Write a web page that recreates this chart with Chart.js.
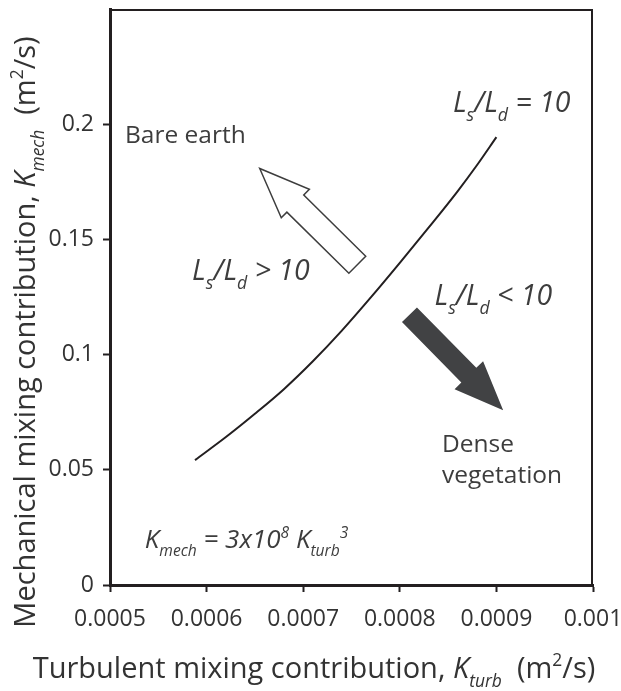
<!DOCTYPE html>
<html>
<head>
<meta charset="utf-8">
<script src="https://cdn.jsdelivr.net/npm/chart.js@4"></script>
<style>
  html, body { margin: 0; padding: 0; background: #fff; }
  #wrap { width: 621px; height: 691px; position: relative; }
</style>
</head>
<body>
<div id="wrap"><canvas id="chart-kmech"></canvas></div>
<script>
// ---------- DATOS
const kTurb = [0.000588, 0.00062, 0.00065, 0.00068, 0.00071, 0.00074, 0.00077, 0.0008, 0.00083, 0.00086, 0.00088, 0.0009];
const kMech = [0.0542, 0.0642, 0.0743, 0.0850, 0.0971, 0.1104, 0.1248, 0.1398, 0.1552, 0.1710, 0.1823, 0.1944];
const xTickValues = [0.0005, 0.0006, 0.0007, 0.0008, 0.0009, 0.001];
const xTickLabels = ['0.0005', '0.0006', '0.0007', '0.0008', '0.0009', '0.001'];
const yTickValues = [0, 0.05, 0.1, 0.15, 0.2];
const yTickLabels = ['0', '0.05', '0.1', '0.15', '0.2'];

const FONT = "'Open Sans', sans-serif";
const TXT = '#3d3d3d';
const INK = '#231f20';

// ---------- texto con subindices / superindices
function drawRich(ctx, parts, x, y, size, align, ratio) {
  ratio = ratio || 0.6;
  let w = 0;
  const widths = parts.map(p => {
    let s = (p.sub || p.sup) ? size * ratio : size;
    ctx.font = (p.it ? 'italic ' : '') + s + 'px ' + FONT;
    let m = ctx.measureText(p.t).width;
    w += m;
    return m;
  });
  let cx = align === 'center' ? x - w / 2 : x;
  parts.forEach((p, i) => {
    let s = (p.sub || p.sup) ? size * ratio : size;
    ctx.font = (p.it ? 'italic ' : '') + s + 'px ' + FONT;
    let dy = p.sub ? size * 0.3 : (p.sup ? -size * 0.4 : 0);
    ctx.fillText(p.t, cx, y + dy);
    cx += widths[i];
  });
}

function lsld(op) {
  return [
    { t: 'L', it: true }, { t: 's', it: true, sub: true }, { t: '/L', it: true },
    { t: 'd', it: true, sub: true }, { t: ' ' + op + ' 10', it: true }
  ];
}

// flechas: [x, y] en unidades de datos
const arrowOpen = { from: [0.000756, 0.1390], to: [0.000655, 0.1808], width: 24, head: 50, headW: 40 };
const arrowFill = { from: [0.000810, 0.1173], to: [0.000907, 0.0759], width: 21, head: 49, headW: 40 };

function drawArrow(ctx, xs, ys, a, fill) {
  let x0 = xs.getPixelForValue(a.from[0]), y0 = ys.getPixelForValue(a.from[1]);
  let x1 = xs.getPixelForValue(a.to[0]), y1 = ys.getPixelForValue(a.to[1]);
  let L = Math.hypot(x1 - x0, y1 - y0);
  let ux = (x1 - x0) / L, uy = (y1 - y0) / L;
  let nx = -uy, ny = ux;
  let bx = x1 - ux * a.head, by = y1 - uy * a.head;
  let hw = a.width / 2, hh = a.headW / 2;
  ctx.beginPath();
  ctx.moveTo(x0 + nx * hw, y0 + ny * hw);
  ctx.lineTo(bx + nx * hw, by + ny * hw);
  ctx.lineTo(bx + nx * hh, by + ny * hh);
  ctx.lineTo(x1, y1);
  ctx.lineTo(bx - nx * hh, by - ny * hh);
  ctx.lineTo(bx - nx * hw, by - ny * hw);
  ctx.lineTo(x0 - nx * hw, y0 - ny * hw);
  ctx.closePath();
  if (fill) {
    ctx.fillStyle = '#414244';
    ctx.fill();
  } else {
    ctx.fillStyle = '#fff';
    ctx.fill();
    ctx.lineWidth = 1.5;
    ctx.strokeStyle = '#3d3d3d';
    ctx.stroke();
  }
}

const annotPlugin = {
  id: 'annot',
  afterDraw(chart) {
    const ctx = chart.ctx;
    const xs = chart.scales.x, ys = chart.scales.y;
    const ca = chart.chartArea;
    ctx.save();
    // marco superior y derecho
    ctx.strokeStyle = INK;
    ctx.lineWidth = 2;
    ctx.beginPath();
    ctx.moveTo(ca.left, ca.top + 1);
    ctx.lineTo(ca.right - 1, ca.top + 1);
    ctx.lineTo(ca.right - 1, ca.bottom);
    ctx.stroke();

    drawArrow(ctx, xs, ys, arrowOpen, false);
    drawArrow(ctx, xs, ys, arrowFill, true);

    ctx.fillStyle = TXT;
    ctx.textBaseline = 'alphabetic';
    ctx.textAlign = 'left';
    let px = v => xs.getPixelForValue(v), py = v => ys.getPixelForValue(v);

    ctx.font = '24.5px ' + FONT;
    ctx.fillText('Bare earth', px(0.0005155), py(0.1917));
    ctx.fillText('Dense', px(0.0008437), py(0.0577));
    ctx.fillText('vegetation', px(0.0008437), py(0.0442));

    drawRich(ctx, lsld('='), px(0.000855), py(0.2051), 28.5, 'left', 0.62);
    drawRich(ctx, lsld('>'), px(0.000585), py(0.1323), 28.5, 'left', 0.62);
    drawRich(ctx, lsld('<'), px(0.000836), py(0.1214), 28.5, 'left', 0.62);
    drawRich(ctx, [
      { t: 'K', it: true }, { t: 'mech', it: true, sub: true }, { t: ' = 3x10', it: true },
      { t: '8', it: true, sup: true }, { t: ' K', it: true }, { t: 'turb', it: true, sub: true },
      { t: '3', it: true, sup: true }
    ], px(0.000536), py(0.016), 26, 'left');

    // titulos de ejes
    ctx.fillStyle = '#333';
    drawRich(ctx, [
      { t: 'Turbulent mixing contribution, ' }, { t: 'K', it: true }, { t: 'turb', it: true, sub: true },
      { t: '  (m' }, { t: '2', sup: true }, { t: '/s)' }
    ], 314, 678, 29, 'center');
    ctx.translate(35, 332);
    ctx.rotate(-Math.PI / 2);
    drawRich(ctx, [
      { t: 'Mechanical mixing contribution, ' }, { t: 'K', it: true }, { t: 'mech', it: true, sub: true },
      { t: '  (m' }, { t: '2', sup: true }, { t: '/s)' }
    ], 0, 0, 29, 'center');
    ctx.restore();
  }
};

const ctx = document.getElementById('chart-kmech').getContext('2d');
const myChartKmech = new Chart(ctx, {
  type: 'line',
  data: {
    datasets: [{
      data: kTurb.map((v, i) => ({ x: v, y: kMech[i] })),
      borderColor: INK,
      borderWidth: 2,
      pointRadius: 0,
      cubicInterpolationMode: 'monotone',
      fill: false
    }]
  },
  options: {
    responsive: true,
    maintainAspectRatio: false,
    animation: false,
    layout: { padding: { top: 9, right: 28, left: 0, bottom: 0 } },
    plugins: { legend: { display: false }, tooltip: { enabled: false } },
    scales: {
      x: {
        type: 'linear',
        min: 0.0005,
        max: 0.001,
        afterBuildTicks: s => { s.ticks = xTickValues.map(v => ({ value: v })); },
        afterFit: s => { s.height = 106; s.paddingLeft = 0; s.paddingRight = 0; },
        ticks: {
          callback: (v, i) => xTickLabels[i],
          color: '#333',
          font: { family: 'Open Sans', size: 23 },
          padding: 14,
          maxRotation: 0,
          autoSkip: false
        },
        grid: { drawOnChartArea: false, tickLength: 7, tickWidth: 2, color: INK },
        border: { color: INK, width: 3 }
      },
      y: {
        type: 'linear',
        min: 0,
        max: 0.25,
        afterBuildTicks: s => { s.ticks = yTickValues.map(v => ({ value: v })); },
        afterFit: s => { s.width = 110; s.paddingTop = 0; s.paddingBottom = 0; },
        ticks: {
          callback: (v, i) => yTickLabels[i],
          color: '#333',
          font: { family: 'Open Sans', size: 23 },
          padding: 9
        },
        grid: { drawOnChartArea: false, tickLength: 7, tickWidth: 2, color: INK },
        border: { color: INK, width: 3 }
      }
    }
  },
  plugins: [annotPlugin]
});
</script>
</body>
</html>
